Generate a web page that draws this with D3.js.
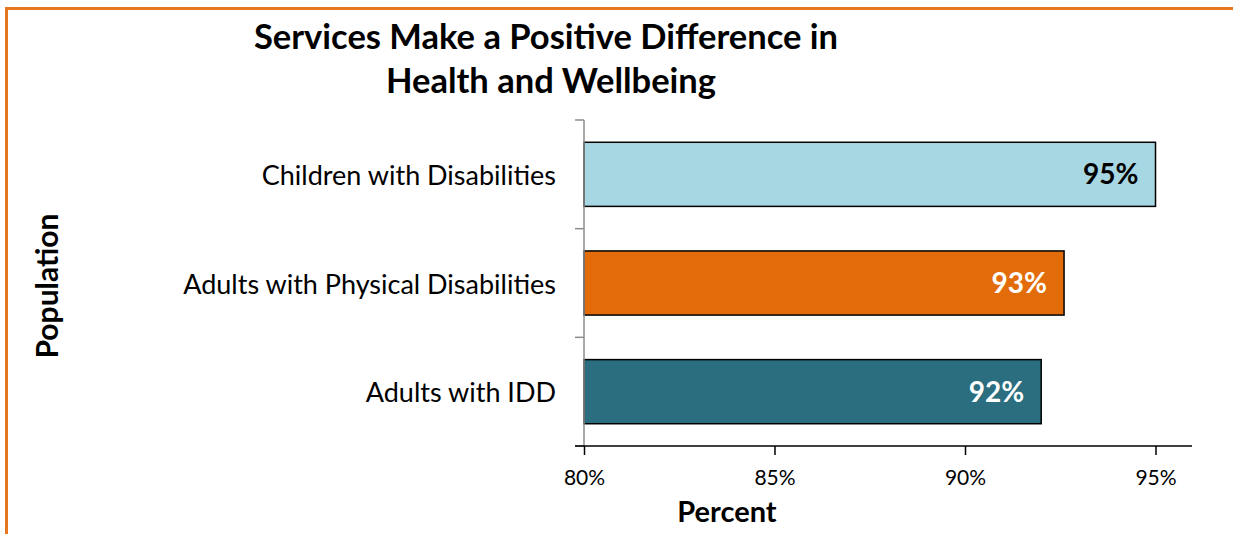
<!DOCTYPE html>
<html>
<head>
<meta charset="utf-8">
<script src="https://cdn.jsdelivr.net/npm/d3@7"></script>
<style>
  html, body { margin: 0; padding: 0; background: #fff; overflow: hidden; }
  svg { display: block; font-family: Lato, "Open Sans", sans-serif; }
</style>
</head>
<body>
<svg id="chart" width="1233" height="534"></svg>
<script>
// Share of respondents reporting that services made a positive difference
const categories = ["Children with Disabilities", "Adults with Physical Disabilities", "Adults with IDD"];
const values = [95.0, 92.6, 92.0];
const barColors = ["#A7D7E2", "#E36C0A", "#2A6E7F"];
const labelColors = ["#000000", "#FFFFFF", "#FFFFFF"];
const xTicks = [80, 85, 90, 95];
const titleLines = ["Services Make a Positive Difference in", "Health and Wellbeing"];

const svg = d3.select("#chart");

// Orange frame around the panel
svg.append("rect")
  .attr("x", 6.5).attr("y", 8.5)
  .attr("width", 1300).attr("height", 600)
  .attr("fill", "none")
  .attr("stroke", "#E8761E")
  .attr("stroke-width", 3);

const plot = { left: 584, right: 1192, top: 120, bottom: 446 };

const x = d3.scaleLinear().domain([80, 96]).range([plot.left, plot.left + 16 * 38.1]);
const y = d3.scaleBand().domain(categories).range([plot.top, plot.bottom]).paddingInner(0.41).paddingOuter(0.205);

// Title
svg.append("g").selectAll("text").data(titleLines).join("text")
  .attr("x", (d, i) => i === 0 ? 546 : 551)
  .attr("y", (d, i) => 49 + i * 44)
  .attr("text-anchor", "middle")
  .attr("font-weight", "bold")
  .attr("font-size", 34.5)
  .attr("fill", "#000")
  .text(d => d);

// Bars
svg.append("g").selectAll("rect").data(values).join("rect")
  .attr("x", x(80))
  .attr("y", (d, i) => y(categories[i]))
  .attr("width", d => x(d) - x(80))
  .attr("height", y.bandwidth())
  .attr("fill", (d, i) => barColors[i])
  .attr("stroke", "#000")
  .attr("stroke-width", 1.5);

// Value labels inside bar ends
svg.append("g").selectAll("text").data(values).join("text")
  .attr("x", d => x(d) - 17)
  .attr("y", (d, i) => y(categories[i]) + y.bandwidth() / 2)
  .attr("dy", "0.36em")
  .attr("text-anchor", "end")
  .attr("font-weight", "bold")
  .attr("font-size", 28)
  .attr("fill", (d, i) => labelColors[i])
  .text(d => Math.round(d) + "%");

// Category axis
const yAxis = svg.append("g")
  .attr("transform", `translate(${plot.left},0)`)
  .call(d3.axisLeft(y).tickSize(0).tickPadding(28));
yAxis.select(".domain").attr("stroke", "#8c8c8c").attr("stroke-width", 1.5)
  .attr("d", `M0,${plot.top}V${plot.bottom}`);
yAxis.selectAll(".tick text").attr("font-size", 27).attr("dy", "0.4em").attr("fill", "#000").style("font-family", "Lato, sans-serif");
// Category boundary ticks
const bounds = d3.range(categories.length + 1).map(i => plot.top + i * (plot.bottom - plot.top) / categories.length);
yAxis.append("g").selectAll("line").data(bounds).join("line")
  .attr("x1", -9).attr("x2", 0)
  .attr("y1", d => d).attr("y2", d => d)
  .attr("stroke", "#8c8c8c").attr("stroke-width", 1.5);

// Value axis
const xAxis = svg.append("g")
  .attr("transform", `translate(0,${plot.bottom})`)
  .call(d3.axisBottom(x).tickValues(xTicks).tickSize(9).tickPadding(15).tickFormat(d => d + "%"));
xAxis.select(".domain").attr("stroke", "#000").attr("stroke-width", 1.5)
  .attr("d", `M${plot.left - 9},0H${plot.right}`);
xAxis.selectAll(".tick line").attr("stroke", "#000").attr("stroke-width", 1.5);
xAxis.selectAll(".tick text").attr("font-size", 21).attr("fill", "#000").style("font-family", "Lato, sans-serif");

// Axis titles
svg.append("text")
  .attr("x", 727).attr("y", 522)
  .attr("text-anchor", "middle")
  .attr("font-weight", "bold").attr("font-size", 29)
  .text("Percent");

svg.append("text")
  .attr("transform", "translate(58,286) rotate(-90)")
  .attr("text-anchor", "middle")
  .attr("font-weight", "bold").attr("font-size", 30)
  .text("Population");
</script>
</body>
</html>
